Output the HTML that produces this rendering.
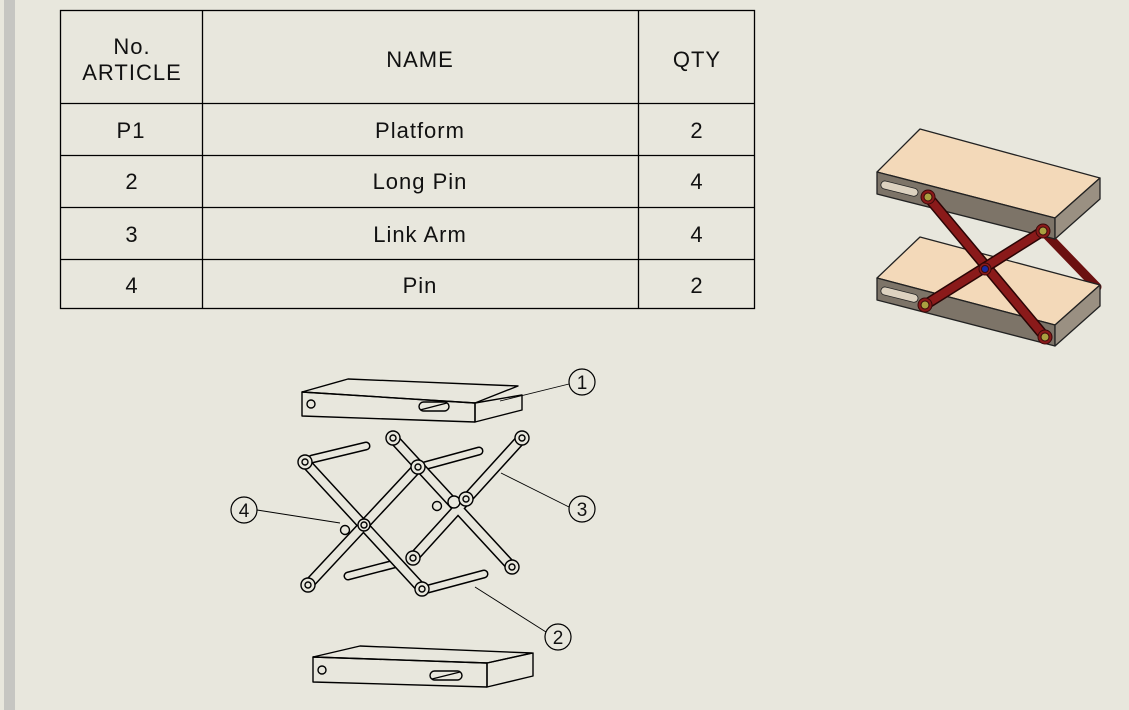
<!DOCTYPE html>
<html><head><style>
html,body{margin:0;padding:0;}
body{width:1129px;height:710px;background:#e8e7dd;position:relative;overflow:hidden;font-family:"Liberation Sans",sans-serif;}
.strip{position:absolute;left:4px;top:0;width:11px;height:710px;background:#c6c6c2;}
</style></head><body>
<div class="strip"></div>
<svg width="1129" height="710" style="position:absolute;left:0;top:0" font-family="Liberation Sans, sans-serif">
<!-- table -->
<g stroke="#000" stroke-width="1.3" fill="none">
<rect x="60.5" y="10.5" width="694" height="298"/>
<line x1="202.5" y1="10" x2="202.5" y2="309"/>
<line x1="638.5" y1="10" x2="638.5" y2="309"/>
<line x1="60" y1="103.5" x2="755" y2="103.5"/>
<line x1="60" y1="155.5" x2="755" y2="155.5"/>
<line x1="60" y1="207.5" x2="755" y2="207.5"/>
<line x1="60" y1="259.5" x2="755" y2="259.5"/>
</g>
<g font-size="22" fill="#111" text-anchor="middle" letter-spacing="1">
<text x="132" y="54">No.</text>
<text x="132" y="80">ARTICLE</text>
<text x="420" y="67">NAME</text>
<text x="697" y="67">QTY</text>
<text x="131" y="138">P1</text><text x="420" y="138">Platform</text><text x="697" y="138">2</text>
<text x="132" y="189">2</text><text x="420" y="189">Long Pin</text><text x="697" y="189">4</text>
<text x="132" y="242">3</text><text x="420" y="242">Link Arm</text><text x="697" y="242">4</text>
<text x="132" y="293">4</text><text x="420" y="293">Pin</text><text x="697" y="293">2</text>
</g>

<!-- exploded view -->
<g stroke="#000" stroke-width="1.4" fill="none" stroke-linejoin="round">
<polygon points="302,392 348,379 518,386 475,403"/>
<polygon points="302,392 475,403 475,422 302,416"/>
<polygon points="475,403 522,395 522,410 475,422"/>
<circle cx="311" cy="404" r="4"/>
<rect x="419" y="402" width="30" height="9" rx="4.5"/>
<line x1="420" y1="410" x2="447" y2="403"/>
<polygon points="313,657 360,646 532,653 487,663"/>
<polygon points="313,657 487,663 487,687 313,682"/>
<polygon points="487,663 533,653 533,676 487,687"/>
<circle cx="322" cy="670" r="4"/>
<rect x="430" y="671" width="32" height="9" rx="4.5"/>
<line x1="432" y1="679" x2="460" y2="672"/>
</g>
<g stroke-linecap="round">
<g stroke="#000" stroke-width="9">
<line x1="312" y1="459" x2="366" y2="446"/>
<line x1="424" y1="466" x2="479" y2="451"/>
<line x1="348" y1="576" x2="398" y2="563"/>
<line x1="428" y1="589" x2="484" y2="574"/>
</g>
<g stroke="#e8e7dd" stroke-width="6">
<line x1="312" y1="459" x2="366" y2="446"/>
<line x1="424" y1="466" x2="479" y2="451"/>
<line x1="348" y1="576" x2="398" y2="563"/>
<line x1="428" y1="589" x2="484" y2="574"/>
</g>
</g>
<g stroke-linecap="round">
<g stroke="#000" stroke-width="11">
<line x1="393" y1="438" x2="512" y2="567"/>
<line x1="522" y1="438" x2="413" y2="558"/>
</g>
<g stroke="#e8e7dd" stroke-width="8">
<line x1="393" y1="438" x2="512" y2="567"/>
<line x1="522" y1="438" x2="413" y2="558"/>
</g>
<g stroke="#000" stroke-width="11">
<line x1="305" y1="462" x2="422" y2="589"/>
<line x1="308" y1="585" x2="418" y2="467"/>
</g>
<g stroke="#e8e7dd" stroke-width="8">
<line x1="305" y1="462" x2="422" y2="589"/>
<line x1="308" y1="585" x2="418" y2="467"/>
</g>
</g>
<g stroke="#000" stroke-width="1.4" fill="#e8e7dd">
<circle cx="393" cy="438" r="7"/><circle cx="393" cy="438" r="3"/>
<circle cx="522" cy="438" r="7"/><circle cx="522" cy="438" r="3"/>
<circle cx="512" cy="567" r="7"/><circle cx="512" cy="567" r="3"/>
<circle cx="413" cy="558" r="7"/><circle cx="413" cy="558" r="3"/>
<circle cx="454" cy="502" r="6"/><circle cx="466" cy="499" r="7"/><circle cx="466" cy="499" r="3"/>
<circle cx="437" cy="506" r="4.5"/>
<circle cx="305" cy="462" r="7"/><circle cx="305" cy="462" r="3"/>
<circle cx="418" cy="467" r="7"/><circle cx="418" cy="467" r="3"/>
<circle cx="308" cy="585" r="7"/><circle cx="308" cy="585" r="3"/>
<circle cx="422" cy="589" r="7"/><circle cx="422" cy="589" r="3"/>
<circle cx="345" cy="530" r="4.5"/>
<circle cx="364" cy="525" r="6"/><circle cx="364" cy="525" r="3"/>
</g>
<g stroke="#000" stroke-width="0.9" fill="none">
<line x1="500" y1="401" x2="569" y2="384"/>
<line x1="501" y1="473" x2="569" y2="507"/>
<line x1="257" y1="510" x2="340" y2="523"/>
<line x1="475" y1="587" x2="546" y2="632"/>
<g stroke-width="1.2">
<circle cx="582" cy="382" r="13"/>
<circle cx="582" cy="509" r="13"/>
<circle cx="244" cy="510" r="13"/>
<circle cx="558" cy="637" r="13"/>
</g>
</g>
<g font-size="19" fill="#111" text-anchor="middle">
<text x="582" y="389">1</text><text x="582" y="516">3</text><text x="244" y="517">4</text><text x="558" y="644">2</text>
</g>

<!-- isometric colored view -->
<g stroke="#222" stroke-width="1.3" stroke-linejoin="round">
<line x1="1043" y1="231" x2="1097" y2="287" stroke="#6b1010" stroke-width="9" stroke-linecap="round"/>
<!-- lower platform -->
<polygon points="877,278 920,237 1100,285 1055,325" fill="#f3d9b9"/>
<polygon points="877,278 1055,325 1055,346 877,300" fill="#7d7468"/>
<polygon points="1055,325 1100,285 1100,306 1055,346" fill="#9a9082"/>
<line x1="985" y1="269" x2="1043" y2="231" stroke="#6b1010" stroke-width="9" stroke-linecap="round"/>
<!-- upper platform -->
<polygon points="877,172 920,129 1100,178 1055,218" fill="#f3d9b9"/>
<polygon points="877,172 1055,218 1055,239 877,194" fill="#7d7468"/>
<polygon points="1055,218 1100,178 1100,199 1055,239" fill="#9a9082"/>
</g>
<g fill="#ddd2c0" stroke="#222" stroke-width="0.8">
<rect x="881" y="180" width="38" height="8" rx="4" transform="rotate(14 881 184)"/>
<rect x="881" y="286" width="38" height="8" rx="4" transform="rotate(14 881 290)"/>
</g>
<g stroke-linecap="round">
<line x1="928" y1="197" x2="1045" y2="337" stroke="#2a0505" stroke-width="11"/>
<line x1="928" y1="197" x2="1045" y2="337" stroke="#8a1a1a" stroke-width="8"/>
<line x1="925" y1="305" x2="1043" y2="231" stroke="#2a0505" stroke-width="11"/>
<line x1="925" y1="305" x2="1043" y2="231" stroke="#8a1a1a" stroke-width="8"/>
</g>
<g stroke="#3a0a0a" stroke-width="1">
<circle cx="928" cy="197" r="7" fill="#8a1a1a"/><circle cx="928" cy="197" r="4" fill="#a9a040"/>
<circle cx="1043" cy="231" r="7" fill="#8a1a1a"/><circle cx="1043" cy="231" r="4" fill="#a9a040"/>
<circle cx="925" cy="305" r="7" fill="#8a1a1a"/><circle cx="925" cy="305" r="4" fill="#a9a040"/>
<circle cx="1045" cy="337" r="7" fill="#8a1a1a"/><circle cx="1045" cy="337" r="4" fill="#a9a040"/>
<circle cx="985" cy="269" r="6" fill="#8a1a1a"/><circle cx="985" cy="269" r="3.5" fill="#1a2aa0"/>
</g>
</svg>
</body></html>
